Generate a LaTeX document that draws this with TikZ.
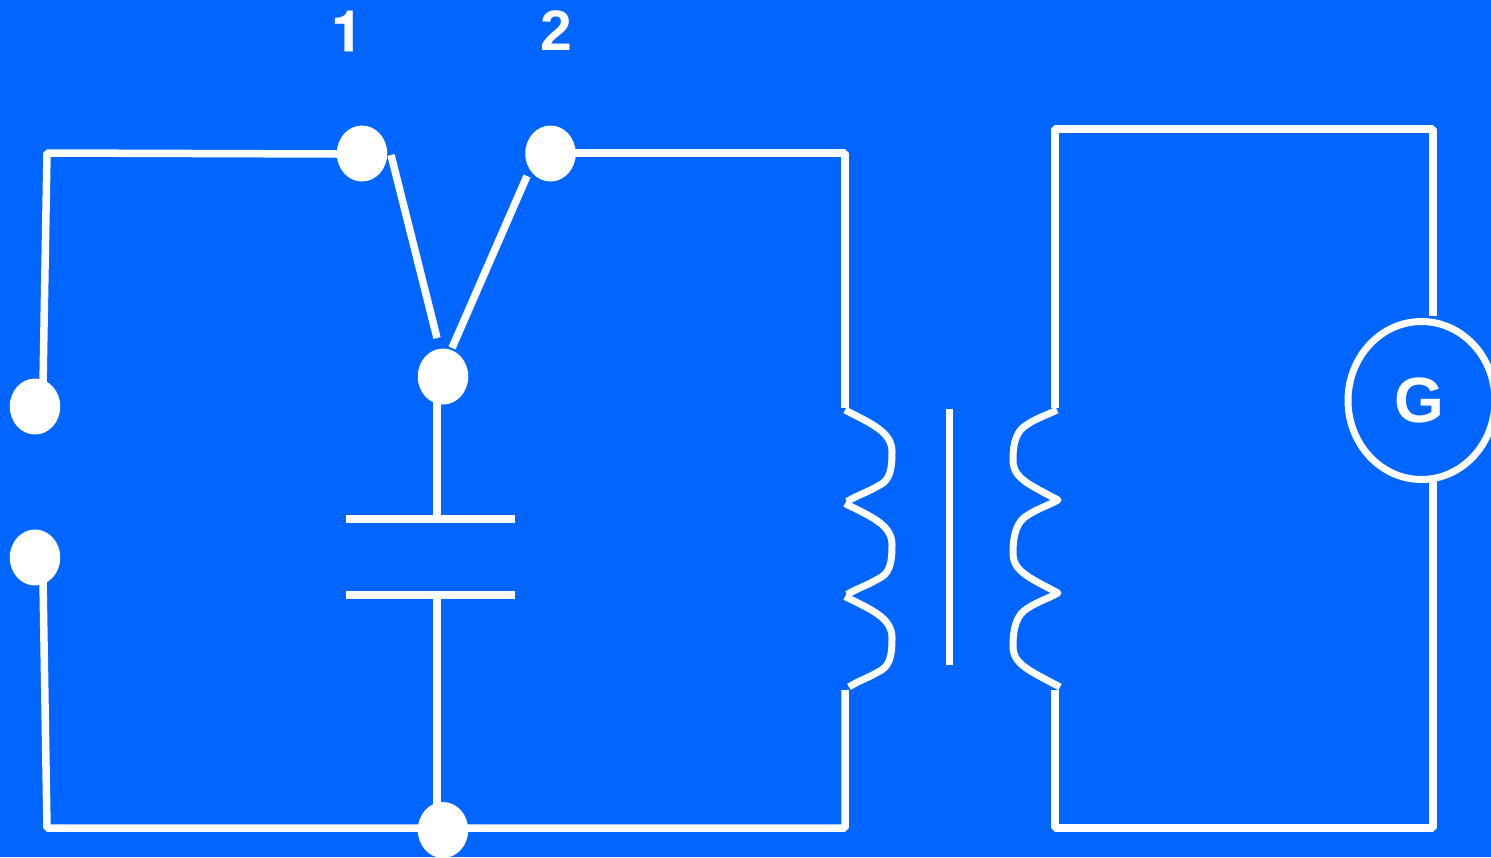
\documentclass[tikz,border=0pt]{standalone}
\usepackage{fontspec}
\setmainfont{Liberation Sans}
\newfontfamily\heros[FakeBold=0.6]{TeX Gyre Heros Bold}
\usetikzlibrary{shapes.geometric}
\definecolor{bluebg}{HTML}{0066FF}
\tikzset{
  wire/.style={draw=white,line width=7.5pt,line cap=butt,line join=bevel},
  coil/.style={draw=white,line width=7pt,line cap=butt,line join=round},
  dotnode/.style={ellipse,fill=white,draw=none,minimum width=50.5pt,minimum height=56pt,inner sep=0pt},
  lab/.style={text=white,font=\bfseries\fontsize{57pt}{57pt}\selectfont,inner sep=0pt},
}
\begin{document}
\begin{tikzpicture}[x=1pt,y=-1pt]
\useasboundingbox (0,0) rectangle (1491,857);
\fill[bluebg] (0,0) rectangle (1491,857);
% labels
\node[lab,font=\heros\fontsize{57pt}{57pt}\selectfont] (one) at (347,31) {1};
\node[lab] (two) at (556,31) {2};
% corners and free ends
\coordinate (tl) at (47,153);
\coordinate (bl) at (47,828);
\coordinate (tm) at (845,153);
\coordinate (bm) at (845,828);
\coordinate (tc1) at (845,408);
\coordinate (bc1) at (845,690);
\coordinate (tr0) at (1055,129);
\coordinate (tr1) at (1433,129);
\coordinate (br0) at (1055,828);
\coordinate (br1) at (1433,828);
\coordinate (tc2) at (1055,408);
\coordinate (bc2) at (1055,690);
\coordinate (gt) at (1433,316);
\coordinate (gb) at (1433,480);
\coordinate (sa1) at (391,155);
\coordinate (sa2) at (437,338);
\coordinate (sb1) at (527,176);
\coordinate (sb2) at (452,348);
\coordinate (capa) at (437,519);
\coordinate (capb) at (437,595);
\coordinate (pa0) at (346,519);
\coordinate (pa1) at (515,519);
\coordinate (pb0) at (346,595);
\coordinate (pb1) at (515,595);
\coordinate (core0) at (949.5,409);
\coordinate (core1) at (949.5,665);
% wires
\draw[wire] (43,385) -- (tl) -- (337,154);
\draw[wire] (575,153) -- (tm) -- (tc1);
\draw[wire] (43,580) -- (bl) -- (bm) -- (bc1);
\draw[wire] (sa1) -- (sa2);
\draw[wire] (sb1) -- (sb2);
\draw[wire] (437,400) -- (capa);
\draw[wire] (pa0) -- (pa1);
\draw[wire] (pb0) -- (pb1);
\draw[wire] (capb) -- (437,820);
\draw[wire] (core0) -- (core1);
\draw[wire] (tc2) -- (tr0) -- (tr1) -- (gt);
\draw[wire] (gb) -- (br1) -- (br0) -- (bc2);
% left coil
\draw[coil] (845,410)
  .. controls (872,424) and (892,432) .. (892,452)
  .. controls (892,472) and (889,481) .. (878,486)
  .. controls (868,492) and (858,495) .. (847,501.5);
\draw[coil] (845,503.5)
  .. controls (872,517) and (892,525) .. (892,545)
  .. controls (892,565) and (889,574) .. (878,579)
  .. controls (868,585) and (858,588) .. (847,594.5);
\draw[coil] (845,596.5)
  .. controls (872,610) and (892,618) .. (892,638)
  .. controls (892,658) and (889,667) .. (878,672)
  .. controls (868,678) and (858,681) .. (849,687);
% right coil
\draw[coil] (1057,410)
  .. controls (1047,415) and (1037,418) .. (1028,424)
  .. controls (1017,430) and (1013,441) .. (1013,460)
  .. controls (1013,478) and (1028,484) .. (1058,500)
  .. controls (1047,506) and (1037,509) .. (1028,515)
  .. controls (1017,521) and (1013,534) .. (1013,553)
  .. controls (1013,571) and (1028,577) .. (1058,593)
  .. controls (1047,599) and (1037,602) .. (1028,608)
  .. controls (1017,614) and (1013,627) .. (1013,646)
  .. controls (1013,664) and (1028,670) .. (1060,687);
% terminals
\node[dotnode] (s1) at (362,153.5) {};
\node[dotnode] (s2) at (550.5,153.5) {};
\node[dotnode] (sc) at (443,376.5) {};
\node[dotnode] (la) at (35,406.5) {};
\node[dotnode] (lb) at (35,557.5) {};
\node[dotnode] (bot) at (443,830) {};
% galvanometer
\node[ellipse,draw=white,line width=7pt,minimum width=147pt,minimum height=158pt,inner sep=0pt] (g) at (1421.5,400.5) {};
\node[text=white,inner sep=0pt,font=\bfseries\fontsize{64pt}{64pt}\selectfont] (glabel) at (1419,400) {G};
\end{tikzpicture}
\end{document}
